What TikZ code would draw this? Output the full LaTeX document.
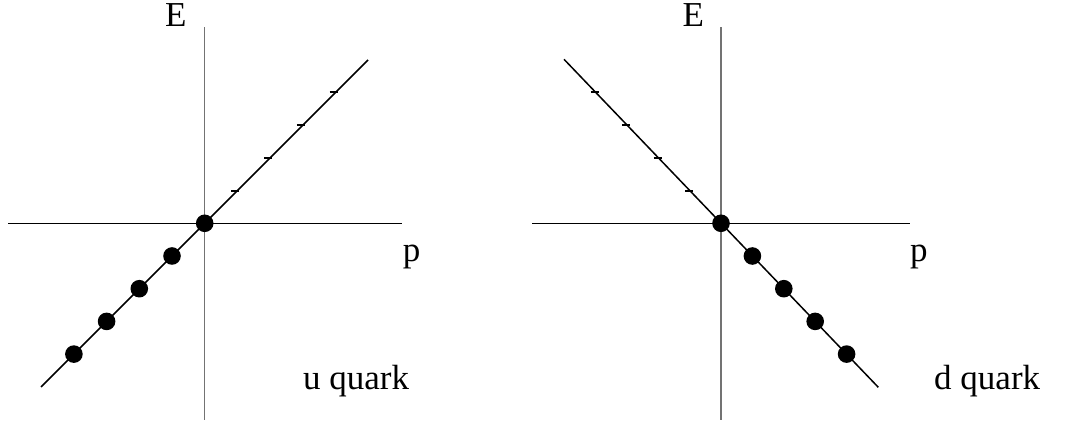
\documentclass[tikz,border=0pt]{standalone}
\usepackage{fontspec}
\setmainfont{Liberation Serif}
\usetikzlibrary{calc}
\begin{document}
\begin{tikzpicture}[x=1pt,y=1pt,
  vaxis/.style={draw=black!55,line width=1.4pt},
  haxis/.style={draw=black,line width=1.2pt},
  band/.style={draw=black,line width=1.5pt},
  tickmark/.style={draw=black,line width=2pt},
  dotfill/.style={fill=black},
  lbl/.style={inner sep=0pt,anchor=base west,font=\fontsize{35}{40}\selectfont}]
\useasboundingbox (0,0) rectangle (1065,422);
% ---------- left panel: u quark ----------
\coordinate (O1) at (204.7,198.7);
\coordinate (v1t) at (204.7,395);
\coordinate (v1b) at (204.7,2);
\coordinate (h1l) at (8,198.7);
\coordinate (h1r) at (402,198.7);
\coordinate (d1a) at (41,35);
\coordinate (d1b) at (368,362);
\draw[vaxis] (v1b) -- (v1t);
\draw[haxis] (h1l) -- (h1r);
\draw[band] (d1a) -- (d1b);
\foreach \k in {1,...,4}{
  \draw[tickmark] ($(O1)+(\k*32.7-6,\k*32.7)$) -- ++(8,0);
}
\foreach \k in {0,...,4}{
  \fill[dotfill] ($(O1)+(-\k*32.7,-\k*32.7)$) circle (8.8);
}
\node[lbl] (E1) at (165,395) {E};
\node[lbl] (p1) at (402.7,160) {p};
\node[lbl] (u1) at (303,32.7) {u quark};
% ---------- right panel: d quark ----------
\coordinate (O2) at (721,198.7);
\coordinate (v2t) at (721,395);
\coordinate (v2b) at (721,2);
\coordinate (h2l) at (532.3,198.7);
\coordinate (h2r) at (910,198.7);
\coordinate (d2a) at (564,362.7);
\coordinate (d2b) at (878.3,34.7);
\draw[vaxis] (v2b) -- (v2t);
\draw[haxis] (h2l) -- (h2r);
\draw[band] (d2a) -- (d2b);
\foreach \k in {1,...,4}{
  \draw[tickmark] ($(O2)+(-\k*31.4-4.5,\k*32.7)$) -- ++(8,0);
}
\foreach \k in {0,...,4}{
  \fill[dotfill] ($(O2)+(\k*31.4,-\k*32.7)$) circle (8.8);
}
\node[lbl] (E2) at (682.3,395) {E};
\node[lbl] (p2) at (910,160) {p};
\node[lbl] (d2) at (934,32.7) {d quark};
\end{tikzpicture}
\end{document}
